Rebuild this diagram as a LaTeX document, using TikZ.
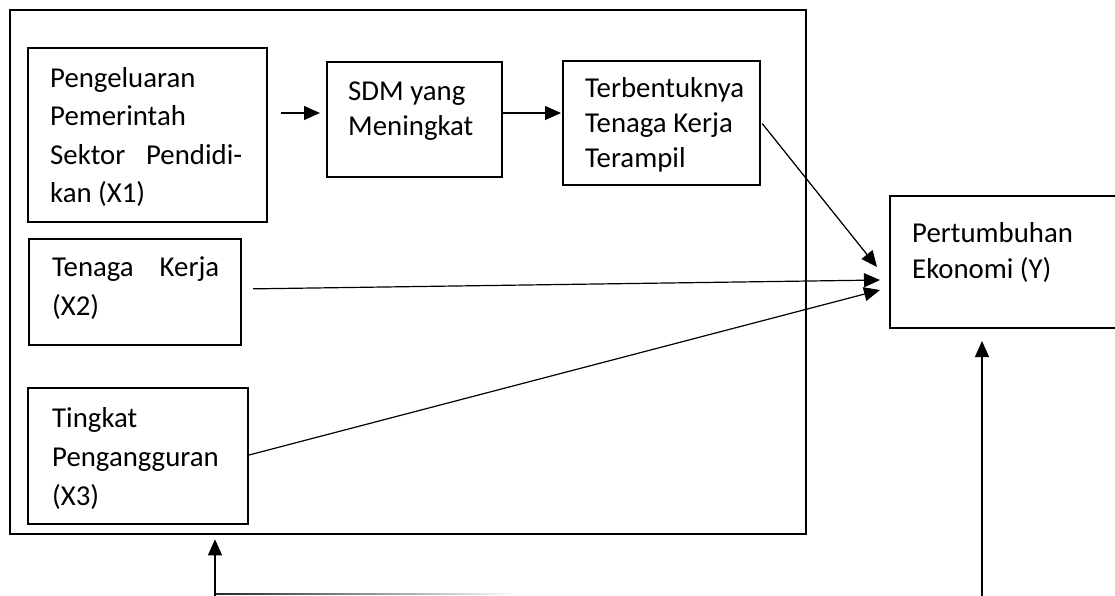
\documentclass[tikz,border=0pt]{standalone}
\usepackage{fontspec}
\setmainfont{Carlito}
\usetikzlibrary{arrows.meta}
\begin{document}
\begin{tikzpicture}[x=1pt,y=-1pt,
  framebox/.style={draw, line width=2.6pt, rectangle, inner sep=0pt},
  box/.style={draw, line width=2pt, rectangle, inner sep=0pt},
  txt/.style={anchor=base west, inner sep=0pt, font=\fontsize{28.8}{#1}\selectfont},
  txt/.default=36,
  arr/.style={line width=1.2pt, -{Triangle[length=16pt,width=14pt]}}]
\useasboundingbox (0,0) rectangle (1115,595);
\clip (0,0) rectangle (1115,595);
% outer frame
\node[framebox, minimum width=796pt, minimum height=524pt] (frame) at (408,272) {};
% boxes
\node[box, minimum width=239pt, minimum height=174pt] (x1) at (147.5,135) {};
\node[box, minimum width=175pt, minimum height=115pt] (sdm) at (414.5,119.5) {};
\node[box, minimum width=197pt, minimum height=124pt] (terb) at (661.5,123) {};
\node[box, minimum width=212pt, minimum height=106pt] (x2) at (135,292) {};
\node[box, minimum width=220pt, minimum height=136pt] (x3) at (138,456) {};
\node[box, minimum width=240pt, minimum height=132pt] (y) at (1010,262) {};
% texts
\node[txt=38.5] (x1t) at (50,87) {\begin{tabular}[t]{@{}l@{}}Pengeluaran\\Pemerintah\\\makebox[192pt][s]{Sektor Pendidi-}\\kan (X1)\end{tabular}};
\node[txt=35] (sdmt) at (348,100) {\begin{tabular}[t]{@{}l@{}}SDM yang\\Meningkat\end{tabular}};
\node[txt=35] (terbt) at (585,97) {\begin{tabular}[t]{@{}l@{}}Terbentuknya\\Tenaga Kerja\\Terampil\end{tabular}};
\node[txt=39] (x2t) at (52,276) {\begin{tabular}[t]{@{}l@{}}\makebox[167pt][s]{Tenaga Kerja}\\(X2)\end{tabular}};
\node[txt=39] (x3t) at (52,427) {\begin{tabular}[t]{@{}l@{}}Tingkat\\Pengangguran\\(X3)\end{tabular}};
\node[txt=36] (yt) at (912,242) {\begin{tabular}[t]{@{}l@{}}Pertumbuhan\\Ekonomi (Y)\end{tabular}};
% free-end coordinates
\coordinate (t1) at (877,267);
\coordinate (t2) at (880,280);
\coordinate (t3) at (880,290);
\coordinate (b1) at (215,597);
\coordinate (b2) at (982,597);
% connectors
\draw[arr, shorten <=13pt, shorten >=6pt] (x1.east |- 0,113) -- (sdm.west |- 0,113);
\draw[arr, shorten >=1pt] (sdm.east |- 0,113) -- (terb.west |- 0,113);
\draw[arr, shorten <=2pt] (terb.east |- 0,122) -- (t1);
\draw[arr, shorten <=11pt] (x2.east |- 0,289) -- (t2);
\draw[arr] (x3.east |- 0,455) -- (t3);
\draw[arr, shorten >=12pt] (b2) -- (y.south -| b2);
\draw[arr, shorten >=4pt] (b1) -- (frame.south -| b1);
\shade[left color=black!85, right color=white] (215.6,593.3) rectangle (520,594.8);
\end{tikzpicture}
\end{document}
